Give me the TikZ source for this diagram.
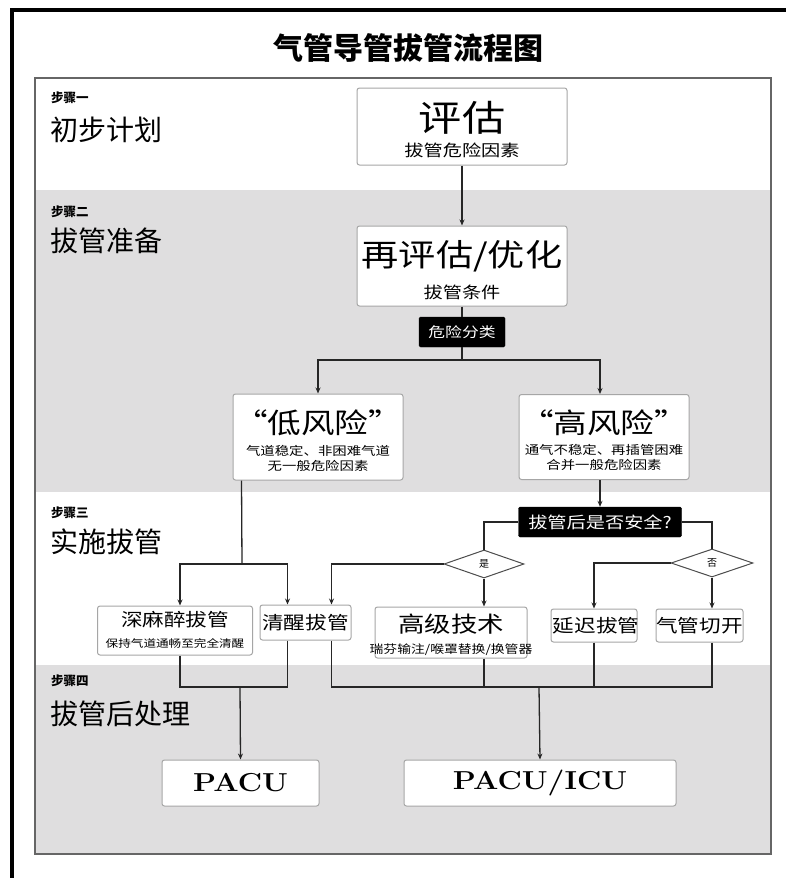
\documentclass[tikz,border=0pt]{standalone}
\usepackage{fontspec}
\usepackage{graphicx}
\usetikzlibrary{shapes.geometric,arrows.meta,calc}
\newfontfamily\cjk{Noto Sans CJK SC}
\newfontfamily\cjkw{Noto Sans CJK SC}[FakeStretch=1.2]
\newcommand{\fz}[1]{\fontsize{#1}{#1}\selectfont}
\definecolor{bandgray}{HTML}{DFDEDF}
\tikzset{
  box/.style={draw=black!35, fill=white, rounded corners=2.5pt, line width=1pt, inner sep=0pt},
  blk/.style={fill=black, draw=black, rounded corners=1.5pt, text=white, inner sep=0pt, font=\cjkw},
  conn/.style={line width=1.3pt, draw=black!85},
  arr/.style={conn, -{Stealth[length=6pt,width=5pt]}},
  dia/.style={diamond, draw=black!70, fill=white, line width=1pt, inner sep=0pt, minimum width=80pt, minimum height=28pt, font=\cjk},
  tx/.style={inner sep=0pt, font=\cjkw},
  stp/.style={inner sep=0pt, anchor=west, font=\cjk},
}
\begin{document}
\begin{tikzpicture}[x=1pt,y=-1pt]
\useasboundingbox (0,0) rectangle (786,878);
\fill[white] (0,0) rectangle (786,878);
% outer frame
\draw[line width=4pt] (12,878) -- (12,10) -- (786,10);
% title
\node[inner sep=0pt, font=\cjk\bfseries] (title) at (408,48) {\fz{30}气管导管拔管流程图};
% bands
\fill[white] (35,78) rectangle (771,190);
\fill[bandgray] (35,190) rectangle (771,492);
\fill[white] (35,492) rectangle (771,665);
\fill[bandgray] (35,665) rectangle (771,854);
\draw[black!60, line width=1.8pt] (35,78) rectangle (771,854);
% step labels
\node[stp, font=\cjk\bfseries] (s1a) at (51,98) {\fz{12.5}步骤一};
\node[stp] (s1b) at (50,130) {\fz{28}初步计划};
\node[stp, font=\cjk\bfseries] (s2a) at (51,212) {\fz{12.5}步骤二};
\node[stp] (s2b) at (50,241) {\fz{28}拔管准备};
\node[stp, font=\cjk\bfseries] (s3a) at (51,513) {\fz{12.5}步骤三};
\node[stp] (s3b) at (50,542) {\fz{28}实施拔管};
\node[stp, font=\cjk\bfseries] (s4a) at (51,681) {\fz{12.5}步骤四};
\node[stp] (s4b) at (50,714) {\fz{28}拔管后处理};
% step 1
\node[box, minimum width=210pt, minimum height=77pt] (eval) at (462,126.5) {};
\node[tx] (evalT) at (462,118) {\fz{36}评估};
\node[tx] (evalS) at (462,150) {\fz{16}拔管危险因素};
% step 2
\node[box, minimum width=210pt, minimum height=80pt] (reeval) at (462,266) {};
\node[tx] (reevalT) at (462,256) {\fz{31}再评估/优化};
\node[tx] (reevalS) at (462,292) {\fz{16}拔管条件};
\node[blk, minimum width=86pt, minimum height=30pt] (cls) at (462,332) {\fz{14}危险分类};
\node[box, minimum width=170pt, minimum height=86pt] (low) at (318,437) {};
\node[tx] (lowT) at (318,423) {\fz{28}“低风险”};
\node[tx] (lowS1) at (318,451) {\fz{12}气道稳定、非困难气道};
\node[tx] (lowS2) at (318,466) {\fz{12}无一般危险因素};
\node[box, minimum width=170pt, minimum height=85pt] (high) at (604,437) {};
\node[tx] (highT) at (604,423) {\fz{28}“高风险”};
\node[tx] (highS1) at (604,450) {\fz{12}通气不稳定、再插管困难};
\node[tx] (highS2) at (604,465) {\fz{12}合并一般危险因素};
% step 3
\node[blk, minimum width=163pt, minimum height=30pt] (safe) at (600,522) {\fz{16}拔管后是否安全?};
\node[dia] (yes) at (484,564) {\fz{10}是};
\node[dia, minimum width=82pt] (no) at (712,563) {\fz{10}否};
\node[box, minimum width=155pt, minimum height=49pt] (deep) at (175,630.5) {};
\node[tx] (deepT) at (175,620) {\fz{18}深麻醉拔管};
\node[tx] (deepS) at (175,643) {\fz{10.5}保持气道通畅至完全清醒};
\node[box, minimum width=91pt, minimum height=35pt] (awake) at (305.5,622.5) {};
\node[tx] (awakeT) at (305.5,622.5) {\fz{18}清醒拔管};
\node[box, minimum width=152pt, minimum height=51pt] (adv) at (451,632.5) {};
\node[tx] (advT) at (451,624) {\fz{22}高级技术};
\node[tx] (advS) at (451,650) {\fz{11.5}瑞芬输注/喉罩替换/换管器};
\node[box, minimum width=86pt, minimum height=33pt] (delay) at (594,625.5) {};
\node[tx] (delayT) at (596,625.5) {\fz{18}延迟拔管};
\node[box, minimum width=87pt, minimum height=33pt] (trach) at (699.5,625.5) {};
\node[tx] (trachT) at (699.5,625.5) {\fz{18}气管切开};
% step 4
\node[box, minimum width=157pt, minimum height=46pt, font=\bfseries] (pacu) at (240.5,783) {\fz{26}\scalebox{1.15}[1]{PACU}};
\node[box, minimum width=272pt, minimum height=46pt, font=\bfseries] (icu) at (540,783) {\fz{26}\scalebox{1.15}[1]{PACU/ICU}};
% coordinates
\coordinate (split) at (462,360);
\coordinate (lowout) at ($(low.south west)+(9,0)$);
\coordinate (lowsplit) at (242,564);
\coordinate (joinL) at (240,687);
\coordinate (joinR) at (539,687);
% connectors
\draw[arr] (eval.south) -- (reeval.north);
\draw[conn] (reeval.south) -- (cls.north);
\draw[conn] (cls.south) -- (split);
\draw[arr] (split) -| (low.north);
\draw[arr] (split) -| (high.north -| safe.north);
\draw[arr] (safe.north |- high.south) -- (safe.north);
\draw[conn] (safe.west) -| (yes.north);
\draw[conn] (safe.east) -| (no.north);
\draw[arr] (yes.west) -| ($(awake.north east)+(-20,0)$);
\draw[arr] (yes.south) -- (yes.south |- adv.north);
\draw[arr] (no.west) -| (delay.north);
\draw[arr] (no.south) -- (no.south |- trach.north);
\draw[conn] (lowout) -- (lowsplit);
\draw[arr] (lowsplit) -| ($(deep.north)+(5,0)$);
\draw[arr] (lowsplit) -| ($(awake.north west)+(28,0)$);
\draw[conn] ($(deep.south)+(5,0)$) |- (joinL);
\draw[conn] ($(awake.south west)+(28,0)$) |- (joinL);
\draw[arr] (joinL) -- (pacu.north);
\draw[conn] ($(awake.south east)+(-20,0)$) |- (joinR);
\draw[conn] (yes.south |- adv.south) |- (joinR);
\draw[conn] (delay.south) |- (joinR);
\draw[conn] (no.south |- trach.south) |- (joinR);
\draw[arr] (joinR) -- (icu.north);
\end{tikzpicture}
\end{document}
